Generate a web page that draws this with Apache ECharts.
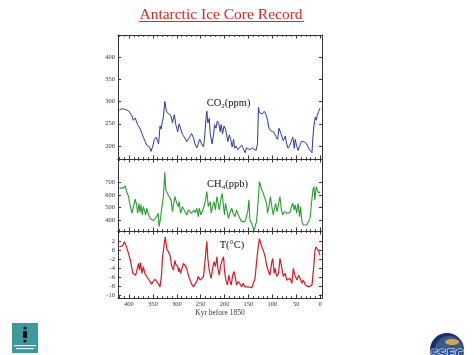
<!DOCTYPE html>
<html><head><meta charset="utf-8">
<script src="https://cdn.jsdelivr.net/npm/echarts@6/dist/echarts.min.js"></script>
<style>html,body{margin:0;padding:0;background:#fff}#c{width:474px;height:355px}</style>
</head><body><div id="c"></div>
<script>
// ---- data (kyr before 1850) ----
const co2Age = [420,415,408,401,398,394,391,387,382,377,373,370,366,363,359,357,354,350,347,343,340,338,335,333,330,328,325,322,320,316,312,309,305,302,298,295,291,288,283,279,276,272,269,265,262,258,255,252,248,244,242,239,237,235,232,230,226,223,221,218,215,212,209,207,204,201,198,195,193,190,187,184,181,179,176,172,168,164,161,157,154,150,147,142,138,134,131,129,127,124,121,117,113,110,107,104,100,96,93,89,86,82,80,77,73,70,67,64,61,57,54,52,49,46,43,39,34,28,24,20,17,15,13,10,8,6,3,0];
const co2Val = [280,284,282,279,276,268,258,263,248,240,228,220,210,202,204,198,188,200,215,220,210,205,245,238,255,265,300,280,275,276,268,252,270,248,232,250,236,226,218,210,212,222,228,218,205,196,200,215,205,198,215,260,278,252,262,228,205,225,248,240,256,250,232,248,228,245,238,222,210,225,215,198,215,195,200,192,190,202,195,185,196,200,192,196,193,190,205,287,275,278,272,278,270,258,240,235,232,230,222,215,240,228,232,212,222,205,195,200,208,220,195,215,200,190,200,210,210,205,195,192,185,220,245,265,258,268,278,285];

const ch4Age = [420,417,412,408,405,401,398,394,391,387,386,384,382,379,377,375,372,370,368,365,363,360,356,349,346,342,339,337,336,334,332,328,325,323,320,316,312,309,306,304,300,297,295,292,288,283,279,276,272,269,264,261,258,255,253,249,246,241,237,234,230,228,225,222,219,216,214,211,208,205,202,200,198,195,192,189,185,182,178,175,171,168,164,161,157,154,151,149,147,143,141,138,135,133,130,127,124,122,119,115,112,110,107,104,101,98,96,93,90,87,84,81,78,75,73,70,66,63,60,57,54,52,49,46,43,41,38,35,31,28,24,21,18,15,13,11,8,6,3,0];
const ch4Val = [655,647,655,673,628,588,521,454,467,566,580,521,454,534,459,521,440,507,480,440,494,454,413,395,400,427,454,346,360,413,480,588,781,641,614,628,561,467,454,588,534,507,547,454,507,467,440,480,467,454,480,459,494,427,494,440,454,534,628,507,547,454,507,547,480,588,547,480,561,614,507,440,534,480,413,454,494,454,427,480,440,413,387,400,387,427,480,561,400,373,346,320,333,387,534,708,668,641,614,628,534,454,507,588,507,440,480,534,467,454,588,480,440,467,454,454,449,459,507,534,480,521,454,534,427,507,387,360,346,360,373,413,534,641,668,561,668,641,614,628];

const tAge = [420,417,413,410,406,403,400,397,392,390,386,384,380,378,376,373,370,367,363,360,356,353,349,346,342,339,335,332,330,327,324,321,318,314,311,307,304,302,298,296,295,292,289,286,283,279,276,272,269,265,262,258,255,251,248,244,241,237,235,232,230,228,225,222,219,216,214,211,208,205,202,200,197,194,191,189,186,183,180,177,175,171,168,164,161,157,154,150,147,143,140,136,133,129,127,124,122,119,115,112,108,105,101,99,96,94,91,87,84,80,77,73,70,66,63,59,56,53,50,48,45,42,38,35,31,28,24,21,17,15,13,11,9,7,4,1,0];
const tVal = [0.7,1.0,0.9,1.8,0.9,-0.1,-1.2,-2.3,-5.2,-5.4,-5.6,-5.7,-3.0,-4.5,-2.8,-5.2,-3.7,-5.2,-5.9,-6.3,-7.0,-7.6,-7.2,-6.5,-6.2,-7.4,-8.2,-5.6,-1.9,0.7,2.9,0.3,0.2,-1.2,-3.4,-4.5,-2.3,-3.2,-3.7,-4.8,-4.0,-5.2,-4.1,-3.0,-2.6,-4.1,-5.6,-6.7,-7.6,-8.2,-7.6,-7.0,-5.9,-6.7,-6.3,-5.9,-2.6,1.9,-1.9,-4.5,-5.6,-6.3,-4.1,-2.6,-3.7,-1.5,-4.1,-5.6,-3.4,-2.3,-1.5,-4.8,-6.7,-7.8,-5.6,-6.7,-7.8,-5.6,-4.8,-6.3,-7.8,-7.0,-7.4,-8.2,-7.4,-8.2,-7.8,-8.2,-8.5,-8.4,-8.5,-6.3,-2.6,1.0,2.5,1.4,0.7,-0.1,-1.5,-3.4,-4.8,-5.6,-2.6,-1.9,-5.2,-4.1,-5.9,-5.2,-1.9,-4.1,-5.9,-5.2,-6.7,-7.0,-6.3,-7.4,-4.1,-5.6,-5.2,-6.7,-5.6,-6.3,-7.4,-6.7,-7.8,-7.4,-8.2,-8.5,-7.8,-5.6,-3.4,-0.4,0.7,0.3,-0.1,-0.4,-1.2];

// ---- tick labels ----
const xMajor = [0,50,100,150,200,250,300,350,400];
const xMinor = [0,10,20,30,40,50,60,70,80,90,100,110,120,130,140,150,160,170,180,190,200,210,220,230,240,250,260,270,280,290,300,310,320,330,340,350,360,370,380,390,400,410,420];
const co2Ticks = [200,250,300,350,400];
const ch4Ticks = [400,500,600,700];
const tTicks = [-10,-8,-6,-4,-2,0,2];
const xTitle = 'Kyr before 1850';
const chartTitle = 'Antarctic Ice Core Record';

// ---- layout ----
const AX = '#333';
const FONT = 'Liberation Serif';
const grids = [
  {left:118, top:35, width:204, height:124},
  {left:118, top:159, width:204, height:72},
  {left:118, top:231, width:204, height:67}
];
const yRanges = [[171,449],[312,888],[-10.67,4.2]];
const yTicks = [co2Ticks, ch4Ticks, tTicks];

function xAx(g, pos, vals, len, lbl, lineShow) {
  const a = {
    type:'value', gridIndex:g, position:pos, min:-4, max:423, inverse:true,
    splitLine:{show:false},
    axisLine:{show:lineShow, onZero:false, lineStyle:{color:AX, width:1}},
    axisTick:{show:true, inside:true, length:len, customValues:vals, lineStyle:{color:AX, width:1}},
    axisLabel:{show:lbl, customValues:vals, margin:3, fontSize:6.5, fontFamily:FONT, color:AX}
  };
  if (lbl) {
    a.name = xTitle; a.nameLocation = 'middle'; a.nameGap = 11;
    a.nameTextStyle = {fontFamily:FONT, fontSize:7.5, color:AX};
  }
  return a;
}
function yAx(g, pos, lbl) {
  return {
    type:'value', gridIndex:g, position:pos, min:yRanges[g][0], max:yRanges[g][1],
    splitLine:{show:false},
    axisLine:{show:true, onZero:false, lineStyle:{color:AX, width:1}},
    axisTick:{show:true, inside:true, length:3, customValues:yTicks[g], lineStyle:{color:AX, width:1}},
    axisLabel:{show:lbl, customValues:yTicks[g], margin:3, fontSize:6.5, fontFamily:FONT, color:AX}
  };
}
const xAxes = [], yAxes = [];
for (let g = 0; g < 3; g++) {
  xAxes.push(xAx(g, 'bottom', xMajor, 3.5, g === 2, true));
  xAxes.push(xAx(g, 'top', xMajor, 3.5, false, true));
  xAxes.push(xAx(g, 'bottom', xMinor, 1.8, false, false));
  xAxes.push(xAx(g, 'top', xMinor, 1.8, false, false));
  yAxes.push(yAx(g, 'left', true));
  yAxes.push(yAx(g, 'right', false));
}
function pairs(a, v) { const n = Math.min(a.length, v.length); const r = []; for (let i = 0; i < n; i++) r.push([a[i], v[i]]); return r; }
const seriesDef = [
  {d: pairs(co2Age, co2Val), c:'#2c3a8c', w:1},
  {d: pairs(ch4Age, ch4Val), c:'#2e9a36', w:1.1},
  {d: pairs(tAge, tVal), c:'#cc1f2b', w:1.2}
];
const series = seriesDef.map((s, g) => ({
  type:'line', xAxisIndex:g*4, yAxisIndex:g*2, data:s.d, showSymbol:false, symbol:'none',
  lineStyle:{color:s.c, width:s.w}, silent:true, animation:false
}));

const labelStyle = {fontFamily:FONT, fontSize:10.5, fill:'#111'};
function richLabel(x, y, text, rich) {
  return {type:'text', x:x, y:y, silent:true, style:Object.assign({text:text, align:'center', verticalAlign:'middle', rich:rich}, labelStyle)};
}
const richSub = {
  a:{fontFamily:FONT, fontSize:10.5, fill:'#111'},
  s:{fontFamily:FONT, fontSize:7, fill:'#111', padding:[6,0,0,0]}
};
const graphic = [
  {type:'text', x:221, y:14.5, silent:true, style:{text:chartTitle, fill:'#d42a2a', fontFamily:FONT, fontSize:15.5, align:'center', verticalAlign:'middle'}},
  {type:'line', silent:true, shape:{x1:139, y1:21.5, x2:304, y2:21.5}, style:{stroke:'#d42a2a', lineWidth:1}},
  richLabel(228.5, 103, '{a|CO}{s|2}{a|(ppm)}', richSub),
  richLabel(227.5, 184.5, '{a|CH}{s|4}{a|(ppb)}', richSub),
  {type:'text', x:232, y:245.5, silent:true, style:Object.assign({text:'T(°C)', align:'center', verticalAlign:'middle'}, labelStyle)},
  // left logo
  {type:'rect', silent:true, shape:{x:12, y:323, width:26, height:30}, style:{fill:'#3d9a9c'}},
  {type:'circle', silent:true, shape:{cx:25, cy:328, r:1.6}, style:{fill:'#111'}},
  {type:'rect', silent:true, shape:{x:23, y:331, width:4, height:7}, style:{fill:'#111'}},
  {type:'circle', silent:true, shape:{cx:25, cy:341, r:1.6}, style:{fill:'#111'}},
  {type:'rect', silent:true, shape:{x:14, y:345, width:22, height:1.2}, style:{fill:'#e8f4f4'}},
  {type:'rect', silent:true, shape:{x:16, y:348, width:18, height:1.2}, style:{fill:'#e8f4f4'}},
  // right logo
  {type:'circle', silent:true, shape:{cx:447, cy:350, r:17}, style:{fill:'#1b2f6e'}},
  {type:'circle', silent:true, shape:{cx:449, cy:350, r:14}, style:{fill:'#3c5a86'}},
  {type:'ellipse', silent:true, shape:{cx:452, cy:342, rx:7, ry:3}, style:{fill:'#d8a24a'}},
  {type:'text', x:447, y:349, silent:true, style:{text:'SSEC', fill:'#1f4fa8', fontFamily:'DejaVu Sans', fontWeight:'bold', fontSize:12, align:'center', verticalAlign:'top', stroke:'#ffffff', lineWidth:1}}
];

const chart = echarts.init(document.getElementById('c'), null, {renderer:'canvas'});
chart.setOption({
  animation:false,
  backgroundColor:'#ffffff',
  grid: grids,
  xAxis: xAxes,
  yAxis: yAxes,
  series: series,
  graphic: graphic
});
</script>
</body></html>
